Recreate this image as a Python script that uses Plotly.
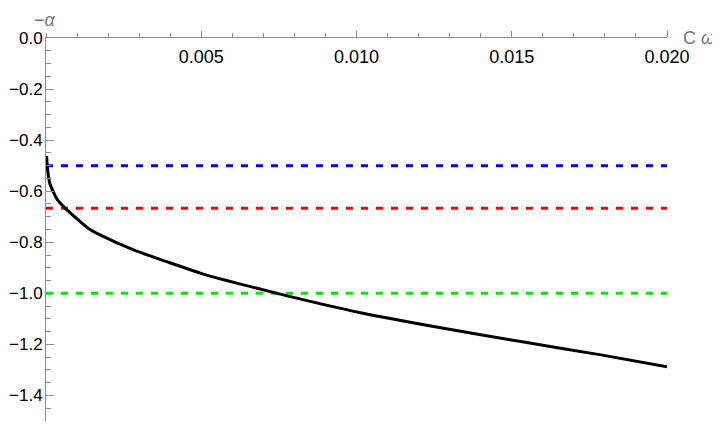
import plotly.graph_objects as go

# data
cw = [0.00002, 0.00004, 0.00012, 0.00037, 0.00064, 0.00139, 0.00174, 0.00282,
      0.00389, 0.00497, 0.00572, 0.00680, 0.00787, 0.01013, 0.01271, 0.01529,
      0.01787, 0.02000]
minus_alpha = [-0.462, -0.501, -0.569, -0.634, -0.669, -0.748, -0.771, -0.830,
               -0.876, -0.921, -0.947, -0.980, -1.013, -1.076, -1.135, -1.189,
               -1.241, -1.288]

ref_levels = [-0.5, -2.0 / 3.0, -1.0]
ref_colors = ["#0000ff", "#ff0000", "#00e600"]
x_span = [0.0, 0.02]

x_tickvals = [0.005, 0.010, 0.015, 0.020]
x_ticktext = ["0.005", "0.010", "0.015", "0.020"]
y_tickvals = [0.0, -0.2, -0.4, -0.6, -0.8, -1.0, -1.2, -1.4]
y_ticktext = ["0.0", "\u22120.2", "\u22120.4", "\u22120.6", "\u22120.8",
              "\u22121.0", "\u22121.2", "\u22121.4"]

fig = go.Figure()
for lvl, col in zip(ref_levels, ref_colors):
    fig.add_trace(go.Scatter(x=x_span, y=[lvl, lvl], mode="lines",
                             line=dict(color=col, width=3, dash="7px,8px"),
                             showlegend=False, hoverinfo="skip"))
fig.add_trace(go.Scatter(x=cw, y=minus_alpha, mode="lines",
                         line=dict(color="black", width=3, shape="spline", smoothing=0.6),
                         showlegend=False))

axis_gray = "#8c8c8c"
font_main = "Liberation Sans, Arial, sans-serif"

# page body has an 8px default margin, so the figure is 8px smaller and margins shifted
fig.update_layout(
    width=712, height=416,
    autosize=False,
    margin=dict(l=38, r=53, t=30, b=3, autoexpand=False),
    paper_bgcolor="white", plot_bgcolor="white",
    xaxis=dict(range=[0, 0.02], side="top", showline=True, linecolor=axis_gray,
               linewidth=1, showgrid=False, zeroline=False, automargin=False,
               tickmode="array", tickvals=x_tickvals, ticktext=x_ticktext,
               ticks="outside", ticklen=6, tickcolor=axis_gray, tickwidth=1,
               ticklabelposition="inside", ticklabeloverflow="allow",
               ticklabelstandoff=13,
               tickfont=dict(family=font_main, size=18, color="black"),
               minor=dict(dtick=0.001, tick0=0, ticks="outside", ticklen=4,
                          tickcolor=axis_gray, showgrid=False)),
    yaxis=dict(range=[-1.5, 0], showline=True, linecolor=axis_gray, linewidth=1,
               showgrid=False, zeroline=False, automargin=False,
               tickmode="array", tickvals=y_tickvals, ticktext=y_ticktext,
               ticks="inside", ticklen=8, tickcolor=axis_gray, tickwidth=1,
               ticklabelstandoff=-1,
               tickfont=dict(family=font_main, size=17, color="black"),
               minor=dict(dtick=0.05, tick0=0, ticks="inside", ticklen=5,
                          tickcolor=axis_gray, showgrid=False)),
    annotations=[
        dict(text="\u2212<i>\u03b1</i>", xref="paper", yref="paper", x=0.0, y=1.0,
             xanchor="right", yanchor="top", yshift=30, xshift=12, showarrow=False,
             font=dict(family=font_main, size=18, color="#777777")),
        dict(text="C <i>\u03c9</i>", xref="paper", yref="paper", x=1.0, y=1.0,
             xanchor="left", yanchor="middle", xshift=14, yshift=0, showarrow=False,
             font=dict(family=font_main, size=18, color="#777777")),
    ],
)

fig.write_html("out.html")
